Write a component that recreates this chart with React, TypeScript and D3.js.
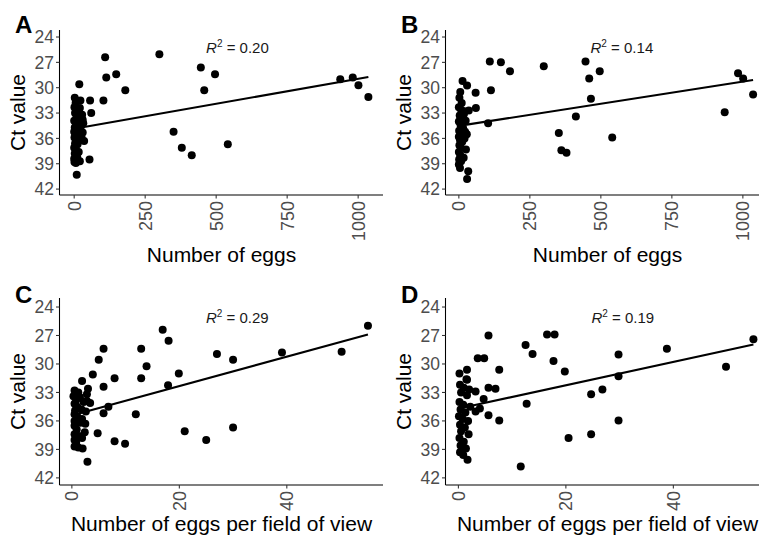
import React from "react";
import * as d3 from "d3";

// axis ticks
const eggTicks = [0, 250, 500, 750, 1000];
const fovTicks = [0, 20, 40];
const ctTicks = [24, 27, 30, 33, 36, 39, 42];

// A: number of eggs vs Ct
const pointsA: [number, number][] = [
  [109, 26.4], [300, 26.05], [113, 28.8], [148, 28.4], [180, 30.3], [18, 29.6], [103, 31.5],
  [56, 31.5], [60, 33.0], [54, 38.5], [9, 40.3], [350, 35.2], [379, 37.1], [414, 38.0],
  [541, 36.7], [446, 27.6], [496, 28.4], [458, 30.3], [937, 29.0], [981, 28.8], [1001, 29.7],
  [1036, 31.1],
  [2, 31.2], [5, 31.8], [1, 32.3], [12, 32.6], [20, 32.4], [3, 33.0], [8, 33.3], [15, 33.6],
  [28, 33.2], [0, 33.9], [6, 34.1], [18, 34.3], [2, 34.7], [10, 34.9], [25, 34.5], [0, 35.2],
  [5, 35.5], [14, 35.4], [30, 35.3], [1, 35.9], [8, 36.1], [22, 36.0], [35, 36.3], [3, 36.6],
  [12, 36.7], [0, 37.1], [6, 37.3], [2, 37.8], [9, 38.0], [0, 38.4], [4, 38.6], [11, 38.3],
  [1, 38.8], [6, 38.9], [22, 31.5], [30, 33.8], [26, 35.9], [32, 34.2], [16, 37.6], [20, 38.7],
];

// B: number of eggs vs Ct
const pointsB: [number, number][] = [
  [109, 26.9], [148, 27.0], [180, 28.05], [299, 27.46], [113, 30.3], [59, 30.6], [60, 32.4],
  [103, 34.2], [352, 35.35], [361, 37.4], [379, 37.7], [33, 39.9], [29, 40.8], [13, 29.2],
  [29, 29.75], [446, 26.9], [459, 28.9], [496, 28.05], [465, 31.3], [412, 33.4], [540, 35.9],
  [983, 28.3], [1001, 28.9], [1036, 30.8], [936, 32.9],
  [5, 30.5], [2, 31.2], [10, 31.8], [0, 32.3], [8, 32.6], [20, 32.8], [35, 32.7], [3, 33.3],
  [12, 33.6], [0, 34.0], [6, 34.4], [15, 34.8], [1, 35.1], [9, 35.4], [22, 35.2], [0, 35.8],
  [4, 36.2], [12, 36.4], [2, 36.8], [7, 37.1], [25, 37.3], [0, 37.6], [5, 38.0], [1, 38.5],
  [8, 38.7], [0, 39.1], [4, 39.5], [14, 34.0], [18, 33.1], [28, 35.5], [24, 33.9], [20, 36.0],
  [17, 38.3],
];

// C: eggs per field of view vs Ct
const pointsC: [number, number][] = [
  [16.9, 26.4], [18.0, 27.55], [5.9, 28.4], [12.9, 28.4], [13.9, 30.25], [5.0, 29.55],
  [3.9, 31.1], [7.95, 31.5], [12.9, 31.5], [19.9, 31.0], [17.9, 32.25], [5.9, 32.4],
  [1.9, 31.8], [3.0, 32.6], [2.8, 33.9], [3.4, 34.1], [6.8, 34.5], [5.9, 35.2], [11.9, 35.3],
  [4.8, 37.3], [1.9, 37.8], [7.95, 38.15], [9.9, 38.4], [21.0, 37.1], [2.9, 40.3],
  [27.0, 28.95], [30.0, 29.55], [39.1, 28.8], [50.2, 28.7], [55.1, 25.97], [25.0, 38.0],
  [30.0, 36.7],
  [0.5, 32.8], [1.2, 33.0], [0.3, 33.4], [0.8, 33.8], [1.5, 33.5], [0.5, 34.2], [1.0, 34.5],
  [0.6, 34.9], [1.8, 34.8], [0.5, 35.3], [1.1, 35.6], [0.5, 36.0], [1.6, 36.2], [0.5, 36.5],
  [0.9, 36.9], [0.5, 37.4], [1.3, 37.6], [0.5, 38.0], [0.8, 38.3], [0.5, 38.7], [1.2, 38.8],
  [2.0, 38.9], [2.5, 36.3], [2.2, 34.0], [2.6, 35.0], [2.8, 33.2], [2.4, 37.2], [1.9, 35.8],
];

// D: eggs per field of view vs Ct
const pointsD: [number, number][] = [
  [5.6, 27.0], [12.5, 28.0], [13.8, 28.95], [16.5, 26.9], [17.9, 26.9], [17.7, 29.7],
  [19.8, 30.8], [3.6, 29.4], [4.8, 29.4], [7.6, 30.6], [5.6, 32.5], [6.9, 32.6], [3.2, 32.9],
  [4.7, 33.7], [12.7, 34.2], [5.6, 35.4], [7.6, 35.95], [20.5, 37.8], [1.7, 40.1],
  [11.6, 40.8], [0.2, 31.0], [1.6, 30.6], [1.6, 31.65], [29.8, 29.0], [38.8, 28.4],
  [29.8, 31.3], [54.9, 27.4], [49.8, 30.3], [24.7, 33.2], [26.8, 32.7], [29.8, 35.95],
  [24.7, 37.4],
  [1.5, 31.6], [0.3, 32.2], [1.0, 32.5], [2.0, 32.7], [0.5, 33.0], [1.6, 33.3], [0.2, 34.0],
  [0.9, 34.3], [2.2, 34.5], [0.4, 34.8], [1.3, 35.1], [0.1, 35.5], [0.8, 35.8], [1.8, 36.0],
  [0.3, 36.4], [1.2, 36.7], [0.5, 37.1], [1.9, 37.4], [0.2, 37.8], [1.0, 38.2], [0.4, 38.6],
  [1.4, 38.9], [0.3, 39.3], [0.9, 39.6], [3.2, 35.0], [4.0, 34.7],
];

// linear fits: [intercept, slope]
const fitA = [34.85, -0.0059];
const fitB = [34.52, -0.00524];
const fitC = [35.43, -0.155];
const fitD = [34.7, -0.123];

const r2Values = ["0.20", "0.14", "0.29", "0.19"];
const panelLetters = ["A", "B", "C", "D"];
const xTitles = ["Number of eggs", "Number of eggs per field of view"];

const FONT = "'Liberation Sans', Arial, Helvetica, sans-serif";
const PANEL_W = 323.5;

const rows = [
  { top: 30, bottom: 195, yDomain: [23.17, 42.7], titleY: 262, letterY: 33, r2Ct: 25.9 },
  { top: 298, bottom: 485, yDomain: [23.05, 42.75], titleY: 531, letterY: 302.5, r2Ct: 25.65 },
];

type PanelProps = {
  letter: string;
  points: [number, number][];
  fit: number[];
  r2: string;
  ticks: number[];
  xDomain: [number, number];
  r2X: number;
  xTitle: string;
  left: number;
  row: number;
};

function Panel({ letter, points, fit, r2, ticks, xDomain, r2X, xTitle, left, row }: PanelProps) {
  const cfg = rows[row];
  const x = d3.scaleLinear().domain(xDomain).range([left, left + PANEL_W]);
  const y = d3.scaleLinear().domain(cfg.yDomain).range([cfg.top, cfg.bottom]);
  const [xMin, xMax] = d3.extent(points, (d) => d[0]) as [number, number];
  const line = d3
    .line<number>()
    .x((v) => x(v))
    .y((v) => y(fit[0] + fit[1] * v));

  return (
    <g fontFamily={FONT}>
      {/* axes */}
      <line x1={left} x2={left} y1={cfg.top} y2={cfg.bottom} stroke="#000" strokeWidth={1.07} />
      <line x1={left} x2={left + PANEL_W} y1={cfg.bottom} y2={cfg.bottom} stroke="#000" strokeWidth={1.07} />
      {ctTicks.map((t) => (
        <g key={"y" + t}>
          <line x1={left - 3.5} x2={left} y1={y(t)} y2={y(t)} stroke="#333" strokeWidth={1.07} />
          <text x={left - 5.5} y={y(t)} dy="0.36em" textAnchor="end" fontSize={17.5} fill="#4d4d4d">
            {t}
          </text>
        </g>
      ))}
      {ticks.map((t) => (
        <g key={"x" + t}>
          <line x1={x(t)} x2={x(t)} y1={cfg.bottom} y2={cfg.bottom + 3.5} stroke="#333" strokeWidth={1.07} />
          <text
            transform={`translate(${x(t)},${cfg.bottom + 6}) rotate(-90)`}
            dy="0.36em"
            textAnchor="end"
            fontSize={18}
            fill="#4d4d4d"
          >
            {t}
          </text>
        </g>
      ))}
      {/* titles */}
      <text
        transform={`translate(${left - 34.5},${(cfg.top + cfg.bottom) / 2}) rotate(-90)`}
        textAnchor="middle"
        fontSize={21}
        fill="#000"
      >
        Ct value
      </text>
      <text x={left + 162} y={cfg.titleY} textAnchor="middle" fontSize={21} fill="#000">
        {xTitle}
      </text>
      <text x={left - 44.5} y={cfg.letterY} fontSize={24} fontWeight="bold" fill="#000">
        {letter}
      </text>
      {/* points */}
      {points.map((p, i) => (
        <circle key={i} cx={x(p[0])} cy={y(p[1])} r={4} fill="#000" />
      ))}
      {/* fit */}
      <path d={line([xMin, xMax]) || ""} fill="none" stroke="#000" strokeWidth={2.1} />
      <text x={x(r2X)} y={y(cfg.r2Ct)} textAnchor="middle" fontSize={15} fill="#1a1a1a">
        <tspan fontStyle="italic">R</tspan>
        <tspan fontSize={10} dy={-6}>2</tspan>
        <tspan dy={6}> = {r2}</tspan>
      </text>
    </g>
  );
}

export default function App() {
  return (
    <svg
      width={759}
      height={535}
      style={{ position: "absolute", left: 0, top: 0, background: "#fff" }}
    >
      <rect width={759} height={535} fill="#fff" />
      <Panel letter={panelLetters[0]} points={pointsA} fit={fitA} r2={r2Values[0]} ticks={eggTicks}
        xDomain={[-51.7, 1087.5]} r2X={575} xTitle={xTitles[0]} left={59.5} row={0} />
      <Panel letter={panelLetters[1]} points={pointsB} fit={fitB} r2={r2Values[1]} ticks={eggTicks}
        xDomain={[-47, 1092]} r2X={574} xTitle={xTitles[0]} left={445.5} row={0} />
      <Panel letter={panelLetters[2]} points={pointsC} fit={fitC} r2={r2Values[2]} ticks={fovTicks}
        xDomain={[-2.3, 57.9]} r2X={30.8} xTitle={xTitles[1]} left={59.5} row={1} />
      <Panel letter={panelLetters[3]} points={pointsD} fit={fitD} r2={r2Values[3]} ticks={fovTicks}
        xDomain={[-2.4, 57.8]} r2X={30.6} xTitle={xTitles[1]} left={445.5} row={1} />
    </svg>
  );
}
